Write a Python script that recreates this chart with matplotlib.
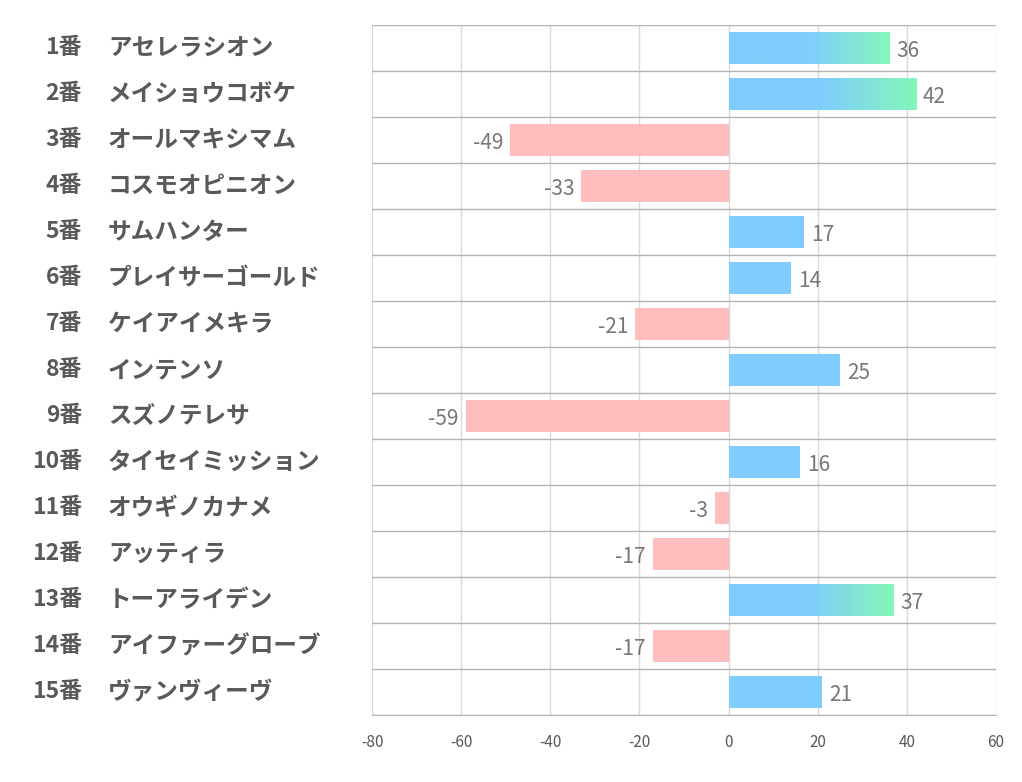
import numpy as np
import matplotlib.pyplot as plt
import matplotlib.transforms as mtransforms
from matplotlib.colors import LinearSegmentedColormap

plt.rcParams['font.family'] = ['Noto Sans CJK JP', 'DejaVu Sans']

umaban = ["1番", "2番", "3番", "4番", "5番", "6番", "7番", "8番",
          "9番", "10番", "11番", "12番", "13番", "14番", "15番"]
names = ["アセレラシオン", "メイショウコボケ", "オールマキシマム", "コスモオピニオン",
         "サムハンター", "プレイサーゴールド", "ケイアイメキラ", "インテンソ",
         "スズノテレサ", "タイセイミッション", "オウギノカナメ", "アッティラ",
         "トーアライデン", "アイファーグローブ", "ヴァンヴィーヴ"]
values = [36, 42, -49, -33, 17, 14, -21, 25, -59, 16, -3, -17, 37, -17, 21]
xticks = [-80, -60, -40, -20, 0, 20, 40, 60]

blue = "#79CBFD"
green = "#7DF7B6"
pink = "#FFBABA"
bar_h = 0.68

fig = plt.figure(figsize=(10.22, 7.82), dpi=100)
ax = fig.add_axes([372 / 1022, 1 - 715 / 782, (996 - 372) / 1022, (715 - 25) / 782])

# gradient only on the long positive bars: blue for the first half, then fade to green
grad_img = np.linspace(0, 1, 256).reshape(1, -1)
grad_img = np.clip((grad_img - 0.5) / 0.5, 0, 1)
grad_cmap = LinearSegmentedColormap.from_list("g2", [blue, green])

for i, v in enumerate(values):
    if v >= 30:
        ax.imshow(grad_img, cmap=grad_cmap,
                  extent=[0, v, i + bar_h / 2, i - bar_h / 2], aspect="auto",
                  alpha=0.95, zorder=2, interpolation="bilinear")
    else:
        ax.barh(i, v, height=bar_h, color=blue if v > 0 else pink,
                alpha=0.95, zorder=2, linewidth=0)
    if v > 0:
        ax.annotate(str(v), (v, i), xytext=(5, -2), textcoords="offset points",
                    ha="left", va="center", fontsize=15, color="#777777")
    else:
        ax.annotate(str(v), (v, i), xytext=(-5, -2), textcoords="offset points",
                    ha="right", va="center", fontsize=15, color="#777777")

ax.set_xlim(-80, 60)
ax.set_ylim(len(values) - 0.5, -0.5)
ax.set_xticks(xticks)
ax.set_xticklabels([str(t) for t in xticks], fontsize=11, color="#595959")
ax.tick_params(axis="x", length=0, pad=14)
ax.set_yticks([])

for xt in xticks:
    ax.axvline(xt, color="#D9D9D9", linewidth=1, zorder=1)
for b in np.arange(-0.5, len(values), 1):
    ax.axhline(b, color="#B4B4B4", linewidth=1, zorder=1)

for s in ax.spines.values():
    s.set_visible(False)
ax.spines["bottom"].set_visible(True)
ax.spines["bottom"].set_color("#B4B4B4")

trans = mtransforms.blended_transform_factory(fig.transFigure, ax.transData)
for i in range(len(values)):
    ax.text(82 / 1022, i, umaban[i], transform=trans, ha="right", va="center",
            fontsize=16.5, fontweight="bold", color="#595959")
    ax.text(108 / 1022, i, names[i], transform=trans, ha="left", va="center",
            fontsize=17, fontweight="bold", color="#595959")

fig.savefig("out.png", dpi=100)
